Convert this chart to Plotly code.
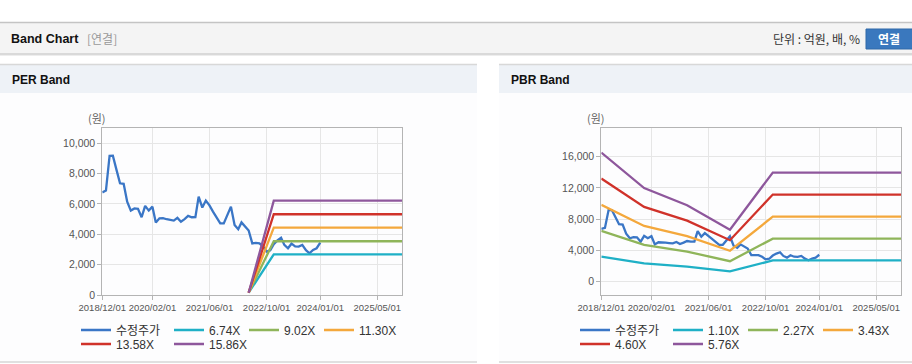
import plotly.graph_objects as go
import pandas as pd

W, H = 912, 364

# ---------------- data ----------------
price_dates = pd.date_range("2018-12-01", "2024-01-01", freq="MS")
price = [6750, 6880, 9160, 9170, 8240, 7360, 7320, 6150, 5560, 5700,
         5680, 5120, 5870, 5560, 5820, 4770, 5050, 5060, 4990, 4950,
         4900, 5080, 4830, 5000, 5210, 5120, 5130, 6480, 5760, 6220,
         5900, 5490, 5100, 4720, 4720, 5250, 5820, 4610, 4330, 4780,
         4500, 4250, 3400, 3430, 3400, 3190, 2860, 2940, 3350, 3600,
         3770, 3300, 3080, 3380, 3200, 3190, 3300, 2950, 2750, 2970,
         3080, 3450]

per_dates = ["2022-05-01", "2022-12-01", "2025-12-01"]
per_674 = [150, 2680, 2680]
per_902 = [150, 3540, 3540]
per_1130 = [150, 4440, 4440]
per_1358 = [150, 5320, 5320]
per_1586 = [150, 6210, 6210]

pbr_dates = ["2018-12-01", "2019-12-01", "2020-12-01", "2021-06-01",
             "2021-12-01", "2022-12-01", "2025-12-01"]
pbr_110 = [3200, 2340, 1930, 1620, 1330, 2720, 2720]
pbr_227 = [6515, 4720, 3860, 3225, 2620, 5505, 5505]
pbr_343 = [9845, 7135, 5830, 4870, 3960, 8320, 8320]
pbr_460 = [13200, 9570, 7820, 6530, 5315, 11155, 11155]
pbr_576 = [16530, 11980, 9790, 8180, 6655, 13970, 13970]

per_names = ["수정주가", "6.74X", "9.02X", "11.30X", "13.58X", "15.86X"]
pbr_names = ["수정주가", "1.10X", "2.27X", "3.43X", "4.60X", "5.76X"]
x_ticks = ["2018-12-01", "2020-02-01", "2021-06-01", "2022-10-01", "2024-01-01", "2025-05-01"]
per_yticks = [0, 2000, 4000, 6000, 8000, 10000]
pbr_yticks = [0, 4000, 8000, 12000, 16000]

# ---------------- style ----------------
COLORS = ["#3a76c6", "#1fb0c6", "#8fb55a", "#f4a83c", "#d0322a", "#8e579c"]
LW = 2.3
NUM_FONT = "Liberation Sans, Arial, sans-serif"
KR_FONT = "Noto Sans CJK KR, Noto Sans, sans-serif"
LEG_FONT = "Liberation Sans, Noto Sans CJK KR, sans-serif"


def px(x):
    return x / W


def py(y):
    return 1 - y / H


fig = go.Figure()

per_series = [per_674, per_902, per_1130, per_1358, per_1586]
pbr_series = [pbr_110, pbr_227, pbr_343, pbr_460, pbr_576]
# legend assignment and text-slot widths (pixels)
leg_a = ["legend", "legend", "legend", "legend", "legend2", "legend2"]
leg_b = ["legend3", "legend3", "legend3", "legend3", "legend4", "legend4"]
slot = [48, 30, 30, 40, 48, 40]

# PER subplot
fig.add_trace(go.Scatter(x=price_dates, y=price, mode="lines", name=per_names[0],
                         line=dict(color=COLORS[0], width=LW), xaxis="x", yaxis="y",
                         legend=leg_a[0], legendwidth=slot[0]))
for i, ser in enumerate(per_series, start=1):
    fig.add_trace(go.Scatter(x=per_dates, y=ser, mode="lines", name=per_names[i],
                             line=dict(color=COLORS[i], width=LW), xaxis="x", yaxis="y",
                             legend=leg_a[i], legendwidth=slot[i]))
# PBR subplot
fig.add_trace(go.Scatter(x=price_dates, y=price, mode="lines", name=pbr_names[0],
                         line=dict(color=COLORS[0], width=LW), xaxis="x2", yaxis="y2",
                         legend=leg_b[0], legendwidth=slot[0]))
for i, ser in enumerate(pbr_series, start=1):
    fig.add_trace(go.Scatter(x=pbr_dates, y=ser, mode="lines", name=pbr_names[i],
                             line=dict(color=COLORS[i], width=LW), xaxis="x2", yaxis="y2",
                             legend=leg_b[i], legendwidth=slot[i]))

axis_common = dict(showgrid=True, gridcolor="#e6e6e6", gridwidth=1,
                   showline=True, linecolor="#b4b4b4", linewidth=1, mirror=True,
                   ticks="outside", ticklen=4, tickcolor="#b4b4b4",
                   tickfont=dict(family=NUM_FONT, size=9.5, color="#555555"),
                   zeroline=False, fixedrange=True, automargin=False)
ytick_font = dict(family=NUM_FONT, size=10.5, color="#555555")

xr = ["2018-12-01", "2025-11-30"]
fig.update_layout(
    xaxis=dict(axis_common, type="date", range=xr, domain=[px(102.3), px(402.3)],
               tickvals=x_ticks, tickformat="%Y/%m/%d", tickangle=0, anchor="y"),
    yaxis=dict(axis_common, range=[0, 11000], domain=[py(295), py(128)],
               tickvals=per_yticks, tickformat=",", anchor="x", tickfont=ytick_font),
    xaxis2=dict(axis_common, type="date", range=xr, domain=[px(601.3), px(901.3)],
                tickvals=x_ticks, tickformat="%Y/%m/%d", tickangle=0, anchor="y2"),
    yaxis2=dict(axis_common, range=[-1700, 19670], domain=[py(295), py(128)],
                tickvals=pbr_yticks, tickformat=",", anchor="x2", tickfont=ytick_font),
)

leg_common = dict(orientation="h", xanchor="left", yanchor="middle",
                  bgcolor="rgba(0,0,0,0)", borderwidth=0, itemclick=False,
                  itemdoubleclick=False, tracegroupgap=0,
                  font=dict(family=LEG_FONT, size=12, color="#333333"))
LX = 76
fig.update_layout(
    legend=dict(leg_common, x=px(LX), y=py(330)),
    legend2=dict(leg_common, x=px(LX), y=py(344)),
    legend3=dict(leg_common, x=px(LX + 499), y=py(330)),
    legend4=dict(leg_common, x=px(LX + 499), y=py(344)),
)

shapes = []
def rect(x0, y0, x1, y1, fill, line=None, lw=0):
    shapes.append(dict(type="rect", xref="paper", yref="paper",
                       x0=px(x0), x1=px(x1), y0=py(y1), y1=py(y0),
                       fillcolor=fill, line=dict(width=lw, color=line or fill),
                       layer="below"))

def hline(x0, x1, y, color, lw=1):
    shapes.append(dict(type="line", xref="paper", yref="paper",
                       x0=px(x0), x1=px(x1), y0=py(y), y1=py(y),
                       line=dict(color=color, width=lw), layer="below"))

# top header bar
rect(0, 22, 912, 53, "#f4f4f4")
hline(0, 912, 22.5, "#c4c4c4", 1.5)
rect(0, 53, 912, 55, "#d9d9d9")
rect(0, 55, 912, 56, "#ededed")
# panels
for x0, x1 in [(0, 477), (499, 912)]:
    rect(x0, 64, x1, 93, "#eef2f7")
    hline(x0, x1, 64.5, "#d8d8d8", 1.5)
    rect(x0, 93, x1, 361, "#fdfdfe")
    hline(x0, x1, 362, "#d6d6d6", 1.5)
# button
shapes.append(dict(type="rect", xref="paper", yref="paper", x0=px(866), x1=px(914),
                   y0=py(49), y1=py(29), fillcolor="#3a78be",
                   line=dict(color="#2f68a8", width=1), layer="above"))
fig.update_layout(shapes=shapes)

ann = []
def text(x, y, s, size=12, color="#333", family=KR_FONT, xanchor="left", bold=False):
    ann.append(dict(x=px(x), y=py(y), xref="paper", yref="paper", showarrow=False,
                    text=("<b>%s</b>" % s) if bold else s, xanchor=xanchor,
                    yanchor="middle", font=dict(size=size, color=color, family=family)))

text(9, 39, "Band Chart", 12.5, "#111111", "Liberation Sans, Arial, sans-serif", bold=True)
text(85, 39, "[연결]", 12, "#999999")
text(862, 39, "단위 : 억원, 배, %", 12, "#333333", xanchor="right")
text(889, 39, "연결", 12, "#ffffff", xanchor="center", bold=True)
text(10, 80, "PER Band", 12, "#111111", "Liberation Sans, Arial, sans-serif", bold=True)
text(509, 80, "PBR Band", 12, "#111111", "Liberation Sans, Arial, sans-serif", bold=True)
text(97, 118, "(원)", 11, "#666666", xanchor="center")
text(596, 118, "(원)", 11, "#666666", xanchor="center")
fig.update_layout(annotations=ann)

fig.update_layout(width=W, height=H,
                  margin=dict(l=0, r=0, t=0, b=0, pad=0, autoexpand=False),
                  paper_bgcolor="#ffffff", plot_bgcolor="#ffffff",
                  hovermode=False, showlegend=True)

fig.write_html("out.html", config={"displayModeBar": False},
               post_script="document.body.style.margin='0';document.body.style.overflow='hidden';")
